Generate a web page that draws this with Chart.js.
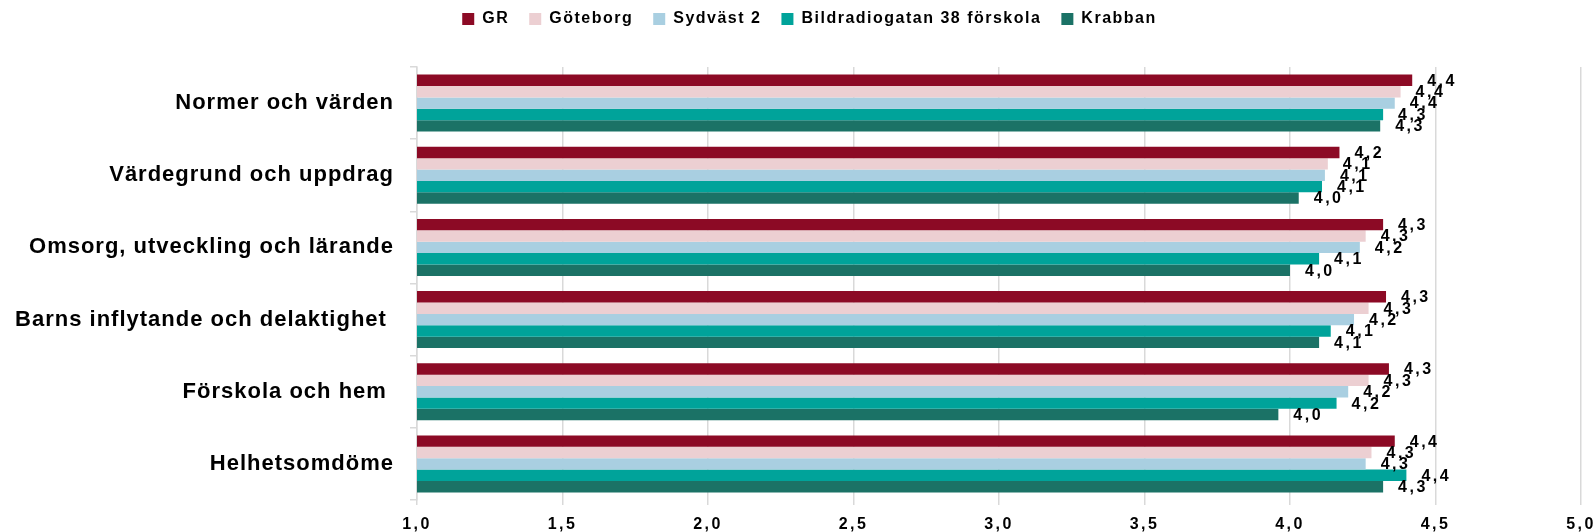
<!DOCTYPE html>
<html>
<head>
<meta charset="utf-8">
<script src="https://cdn.jsdelivr.net/npm/chart.js@4"></script>
<style>
  html, body { margin: 0; padding: 0; background: #fff; }
  #wrap { width: 1595px; height: 532px; }
</style>
</head>
<body>
<div id="wrap"><canvas id="diagram"></canvas></div>
<script>
// Kategorier och serier
const kategorier = [
    'Normer och värden',
    'Värdegrund och uppdrag',
    'Omsorg, utveckling och lärande',
    'Barns inflytande och delaktighet ',
    'Förskola och hem ',
    'Helhetsomdöme'
];
const serier = ['GR', 'Göteborg', 'Sydväst 2', 'Bildradiogatan 38 förskola', 'Krabban'];
const farger = ['#8c0a25', '#eccfd2', '#a9cfe1', '#00a39a', '#1b7266'];

// Värden per serie (en per kategori)
const vardenGR       = [4.42, 4.17, 4.32, 4.33, 4.34, 4.36];
const vardenGoteborg = [4.38, 4.13, 4.26, 4.27, 4.27, 4.28];
const vardenSydvast  = [4.36, 4.12, 4.24, 4.22, 4.20, 4.26];
const vardenBild     = [4.32, 4.11, 4.10, 4.14, 4.16, 4.40];
const vardenKrabban  = [4.31, 4.03, 4.00, 4.10, 3.96, 4.32];
const allaVarden = [vardenGR, vardenGoteborg, vardenSydvast, vardenBild, vardenKrabban];

// Axelns skala
const axelMin = 1.0;
const axelMax = 5.0;
const axelSteg = 0.5;

const typsnitt = '"Liberation Sans", Arial, sans-serif';

// Byt bokstavsavstånd medan en metod ritar
function medAvstand(obj, metod, varde) {
    if (obj['_avst_' + metod]) return;
    const orig = obj[metod];
    obj[metod] = function (...args) {
        const ctx = this.ctx;
        const fore = ctx.letterSpacing;
        ctx.letterSpacing = varde;
        orig.apply(this, args);
        ctx.letterSpacing = fore;
    };
    obj['_avst_' + metod] = true;
}

// Bokstavsavstånd för texten i diagrammet
const avstand = {
    id: 'avstand',
    beforeLayout(chart) { chart.ctx.letterSpacing = '1.5px'; },
    beforeDraw(chart) { chart.ctx.letterSpacing = '1.5px'; },
    afterLayout(chart) {
        medAvstand(chart.scales.x, 'drawLabels', '2.5px');
        medAvstand(chart.scales.y, 'drawLabels', '1px');
    }
};

// Flytta förklaringen uppåt och lite åt höger
const flyttaForklaring = {
    id: 'flyttaForklaring',
    afterLayout(chart) {
        const lg = chart.legend;
        const h = lg.bottom - lg.top;
        lg.top = 19 - 20 - 8;
        lg.bottom = lg.top + h;
        lg.left += 12;
        lg.right += 12;
    }
};

// Värdeetiketter vid staplarnas slut
const etiketter = {
    id: 'etiketter',
    afterDatasetsDraw(chart) {
        const ctx = chart.ctx;
        ctx.save();
        ctx.font = 'bold 16px ' + typsnitt;
        ctx.letterSpacing = '2.5px';
        ctx.fillStyle = '#000';
        ctx.textBaseline = 'middle';
        ctx.textAlign = 'left';
        chart.data.datasets.forEach((ds, i) => {
            chart.getDatasetMeta(i).data.forEach((bar, j) => {
                const text = ds.data[j].toFixed(1).replace('.', ',');
                ctx.fillText(text, bar.x + 15, bar.y + 1);
            });
        });
        ctx.restore();
    }
};

const datasets = serier.map((namn, i) => ({
    label: namn,
    data: allaVarden[i],
    backgroundColor: farger[i],
    borderWidth: 0,
    categoryPercentage: 0.79,
    barPercentage: 1.0
}));

new Chart(document.getElementById('diagram'), {
    type: 'bar',
    data: { labels: kategorier, datasets: datasets },
    options: {
        indexAxis: 'y',
        responsive: true,
        maintainAspectRatio: false,
        animation: false,
        layout: { padding: { top: 21, right: 0, left: 0, bottom: 0 } },
        plugins: {
            legend: {
                position: 'top',
                labels: {
                    boxWidth: 12,
                    boxHeight: 12,
                    padding: 20,
                    color: '#000',
                    font: { family: typsnitt, size: 16, weight: 'bold' }
                }
            },
            tooltip: { enabled: false }
        },
        scales: {
            x: {
                min: axelMin,
                max: axelMax,
                afterFit(s) {
                    s.height = 32;
                    s.paddingLeft = 0;
                    s.paddingRight = 14;
                },
                ticks: {
                    stepSize: axelSteg,
                    color: '#000',
                    padding: 10,
                    font: { family: typsnitt, size: 16, weight: 'bold' },
                    callback: v => v.toFixed(1).replace('.', ',')
                },
                grid: { color: '#d9d9d9', lineWidth: 1.5, tickLength: 5 },
                border: { display: false }
            },
            y: {
                afterFit(s) { s.width = 417; },
                ticks: {
                    color: '#000',
                    padding: 16,
                    font: { family: typsnitt, size: 22, weight: 'bold' }
                },
                grid: { drawOnChartArea: false, color: '#d9d9d9', lineWidth: 1.5, tickLength: 7 },
                border: { display: true, color: '#d9d9d9', width: 1.5 }
            }
        }
    },
    plugins: [avstand, flyttaForklaring, etiketter]
});
</script>
</body>
</html>
